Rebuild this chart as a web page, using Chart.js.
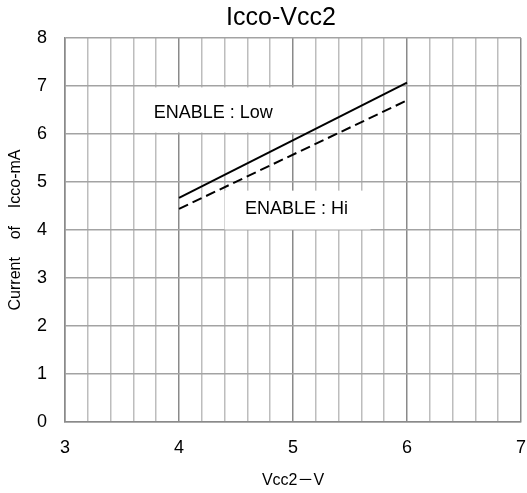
<!DOCTYPE html>
<html>
<head>
<meta charset="utf-8">
<script src="https://cdn.jsdelivr.net/npm/chart.js@4.4.0/dist/chart.umd.min.js"></script>
<style>
  html, body { margin: 0; padding: 0; background: #fff; }
  #wrap { width: 527px; height: 493px; }
</style>
</head>
<body>
<div id="wrap"><canvas id="grafico"></canvas></div>
<script>
// Datos: corriente Icco frente a Vcc2
const vcc2 = [4, 6];
const iccoLow = [4.67, 7.07]; // ENABLE : Low
const iccoHi = [4.44, 6.70];  // ENABLE : Hi

const xTicks = [3, 4, 5, 6, 7];
const yTicks = [0, 1, 2, 3, 4, 5, 6, 7, 8];

const titulo = 'Icco-Vcc2';
const fuente = '"Liberation Sans", "Noto Sans CJK JP", sans-serif';

// Etiquetas con fondo blanco sobre la rejilla (coordenadas en unidades de datos)
const etiquetas = [
    { texto: 'ENABLE : Low', x: 4.30, y: 6.43, caja: [3.72, 5.07, 6.03, 6.97] },
    { texto: 'ENABLE : Hi', x: 5.03, y: 4.43, caja: [4.40, 5.68, 4.01, 4.82] }
];

const pluginEtiquetas = {
    id: 'etiquetas',
    beforeDatasetsDraw(chart) {
        const { ctx, scales: { x, y } } = chart;
        ctx.save();
        ctx.fillStyle = '#fff';
        etiquetas.forEach(e => {
            const [x0, x1, y0, y1] = e.caja;
            ctx.fillRect(x.getPixelForValue(x0), y.getPixelForValue(y1),
                x.getPixelForValue(x1) - x.getPixelForValue(x0),
                y.getPixelForValue(y0) - y.getPixelForValue(y1));
        });
        ctx.fillStyle = '#000';
        ctx.font = '18px ' + fuente;
        ctx.textAlign = 'center';
        ctx.textBaseline = 'middle';
        etiquetas.forEach(e => {
            ctx.fillText(e.texto, x.getPixelForValue(e.x), y.getPixelForValue(e.y));
        });
        ctx.restore();
    },
    afterDraw(chart) {
        // título un poco desplazado a la derecha, sobre el área del gráfico
        const { ctx, chartArea } = chart;
        ctx.save();
        ctx.fillStyle = '#000';
        ctx.font = '25px ' + fuente;
        ctx.textAlign = 'center';
        ctx.textBaseline = 'middle';
        ctx.fillText(titulo, (chartArea.left + chartArea.right) / 2 - 12, 18);
        ctx.restore();
    }
};

const ctx = document.getElementById('grafico').getContext('2d');
const chart = new Chart(ctx, {
    type: 'scatter',
    data: {
        datasets: [
            {
                label: 'ENABLE : Low',
                data: vcc2.map((v, i) => ({ x: v, y: iccoLow[i] })),
                showLine: true,
                borderColor: '#000',
                borderWidth: 2,
                pointRadius: 0
            },
            {
                label: 'ENABLE : Hi',
                data: vcc2.map((v, i) => ({ x: v, y: iccoHi[i] })),
                showLine: true,
                borderColor: '#000',
                borderWidth: 2,
                borderDash: [10, 5],
                pointRadius: 0
            }
        ]
    },
    options: {
        responsive: true,
        maintainAspectRatio: false,
        animation: false,
        layout: { padding: { top: 38, right: 6, left: 0, bottom: 0 } },
        plugins: {
            legend: { display: false },
            tooltip: { enabled: false },
            title: { display: false }
        },
        scales: {
            x: {
                type: 'linear',
                min: xTicks[0],
                max: xTicks[xTicks.length - 1],
                afterBuildTicks: (axis) => {
                    const t = [];
                    for (let v = 3; v <= 7.0001; v += 0.2) t.push({ value: Math.round(v * 10) / 10 });
                    axis.ticks = t;
                },
                ticks: {
                    autoSkip: false,
                    maxRotation: 0,
                    color: '#000',
                    font: { family: fuente, size: 18 },
                    padding: 15,
                    callback: (v) => xTicks.includes(v) ? String(v) : ''
                },
                grid: {
                    color: (c) => Number.isInteger(c.tick.value) ? '#8a8a8a' : '#bdbdbd',
                    lineWidth: 1.5,
                    drawTicks: false
                },
                border: { color: '#8a8a8a', width: 1.5 },
                title: {
                    display: true,
                    text: 'Vcc2－V',
                    color: '#000',
                    font: { family: fuente, size: 16 },
                    padding: { top: 0, bottom: 3 }
                },
                afterFit: (axis) => {
                    axis.height = 71;
                    axis.paddingLeft = 0;
                    axis.paddingRight = 0;
                }
            },
            y: {
                type: 'linear',
                min: yTicks[0],
                max: yTicks[yTicks.length - 1],
                afterBuildTicks: (axis) => { axis.ticks = yTicks.map(v => ({ value: v })); },
                ticks: {
                    color: '#000',
                    font: { family: fuente, size: 18 },
                    padding: 18
                },
                grid: {
                    color: '#a3a3a3',
                    lineWidth: 1.5,
                    drawTicks: false
                },
                border: { color: '#8a8a8a', width: 1.5 },
                title: {
                    display: true,
                    text: 'Current    of    Icco-mA',
                    color: '#000',
                    font: { family: fuente, size: 16 },
                    padding: { top: 6, bottom: 0 }
                },
                afterFit: (axis) => {
                    axis.width = 65;
                    axis.paddingTop = 0;
                    axis.paddingBottom = 0;
                }
            }
        }
    },
    plugins: [pluginEtiquetas]
});
</script>
</body>
</html>
